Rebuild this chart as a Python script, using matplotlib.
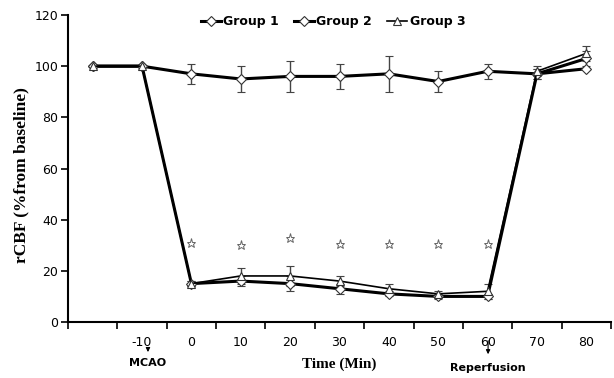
import numpy as np
import matplotlib.pyplot as plt
from matplotlib.lines import Line2D

# time points (first point is baseline, no label)
time_labels = ['', '-10', '0', '10', '20', '30', '40', '50', '60', '70', '80']

g1 = [100, 100, 97, 95, 96, 96, 97, 94, 98, 97, 99]
g1_err = [0, 0, 4, 5, 6, 5, 7, 4, 3, 2, 0]
g2 = [100, 100, 15, 16, 15, 13, 11, 10, 10, 97, 103]
g2_err = [0, 0, 1, 2, 3, 2, 1, 1, 1, 2, 3]
g3 = [100, 100, 15, 18, 18, 16, 13, 11, 12, 98, 105]
g3_err = [0, 0, 1, 3, 4, 2, 2, 1, 3, 2, 3]
star_x = [2, 3, 4, 5, 6, 7, 8]
star_y = [31, 30, 33, 30.5, 30.5, 30.5, 30.5]

x = np.arange(len(time_labels))

fig = plt.figure(figsize=(6.14, 3.78), dpi=100)
ax = fig.add_axes([68/614, 1-322/378, 543/614, 307/378])

ekw = dict(ecolor='#444444', elinewidth=1, capsize=3, capthick=1)
mkw = dict(mfc='white', mec='#333333', mew=0.8)
ax.errorbar(x, g1, yerr=g1_err, color='black', lw=2.2, marker='D', ms=5, **mkw, **ekw)
ax.errorbar(x, g2, yerr=g2_err, color='black', lw=2.2, marker='D', ms=5, **mkw, **ekw)
ax.errorbar(x, g3, yerr=g3_err, color='black', lw=1.2, marker='^', ms=6, **mkw, **ekw)

ax.plot(star_x, star_y, ls='none', marker='*', ms=6.5, mfc='white', mec='#666666', mew=0.7)

ax.set_xlim(-0.5, len(x) - 0.5)
ax.set_ylim(0, 120)
ax.set_yticks(range(0, 121, 20))
ax.set_xticks(np.arange(-0.5, len(x), 1.0))
ax.set_xticklabels([])
ax.set_xticks(x, minor=True)
ax.set_xticklabels(time_labels, minor=True)
ax.tick_params(axis='x', which='major', direction='out', length=5, width=1.2)
ax.tick_params(axis='x', which='minor', length=0, pad=10, labelsize=9)
ax.tick_params(axis='y', direction='out', length=5, width=1.2, labelsize=9, pad=2)

for s in ['top', 'right']:
    ax.spines[s].set_visible(False)
for s in ['left', 'bottom']:
    ax.spines[s].set_linewidth(1.5)

ax.set_ylabel('rCBF (%from baseline)', family='Liberation Serif', fontweight='bold',
              fontsize=12.5)
ax.yaxis.set_label_coords(-39/543, 0.48)
ax.set_xlabel('Time (Min)', family='Liberation Serif', fontweight='bold', fontsize=11)
ax.xaxis.set_label_coords(0.5, -0.115)

# event annotations
tr = ax.get_xaxis_transform()
ax.annotate('', xy=(1.12, -0.098), xytext=(1.12, -0.080), xycoords=tr,
            arrowprops=dict(arrowstyle='-|>', color='black', lw=0.8, mutation_scale=6),
            annotation_clip=False)
ax.text(1.12, -0.134, 'MCAO', transform=tr, ha='center', va='center',
        fontsize=8, fontweight='bold')
ax.annotate('', xy=(8.01, -0.114), xytext=(8.01, -0.052), xycoords=tr,
            arrowprops=dict(arrowstyle='-|>', color='black', lw=0.8, mutation_scale=6),
            annotation_clip=False)
ax.text(8.01, -0.15, 'Reperfusion', transform=tr, ha='center', va='center',
        fontsize=8, fontweight='bold')

handles = [
    Line2D([], [], color='black', lw=2.2, marker='D', ms=5, **mkw),
    Line2D([], [], color='black', lw=2.2, marker='D', ms=5, **mkw),
    Line2D([], [], color='black', lw=1.2, marker='^', ms=6, **mkw),
]
ax.legend(handles, ['Group 1', 'Group 2', 'Group 3'], loc='center',
          bbox_to_anchor=(333/614, 1-22/378), bbox_transform=fig.transFigure,
          ncol=3, frameon=False, prop={'weight': 'bold', 'size': 9},
          handlelength=1.6, columnspacing=1.2, handletextpad=0.2)

fig.savefig('out.png', dpi=100)
